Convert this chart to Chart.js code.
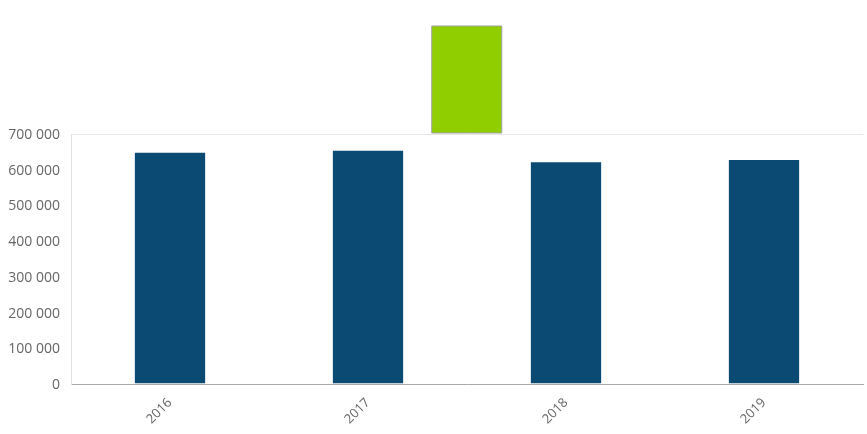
<!DOCTYPE html>
<html>
<head>
<meta charset="utf-8">
<script src="https://cdn.jsdelivr.net/npm/chart.js@4/dist/chart.umd.min.js"></script>
<style>
  html, body { margin:0; padding:0; background:#fff; }
  #wrap { width:867px; height:434px; position:relative; }
</style>
</head>
<body>
<div id="wrap"><canvas id="chart"></canvas></div>
<script>
// Données
const years = ["2016", "2017", "2018", "2019"];
const values = [650000, 656000, 624000, 630000];
const yTicks = [0, 100000, 200000, 300000, 400000, 500000, 600000, 700000];

const BLUE = "#0b4a72";
const GREEN = "#90ce00";
const TXT = "#666666";

// 700 000 -> "700 000"
const fmt = v => String(v).replace(/\B(?=(\d{3})+(?!\d))/g, " ");

new Chart(document.getElementById("chart"), {
  type: "bar",
  data: {
    labels: years,
    datasets: [{
      label: "",
      data: values,
      backgroundColor: BLUE,
      borderColor: "rgba(255,255,255,0.55)",
      borderWidth: {top:1, left:1, right:1, bottom:0},
      categoryPercentage: 1,
      barPercentage: 0.365
    }]
  },
  options: {
    responsive: true,
    maintainAspectRatio: false,
    animation: false,
    layout: { padding: { left:0, right:4, top:0, bottom:0 } },
    scales: {
      x: {
        grid: { display:false },
        border: { display:true, color:"#a8a8a8", width:1 },
        ticks: {
          color: TXT,
          font: { family:"'Open Sans'", size:13 },
          minRotation: 45,
          maxRotation: 45,
          padding: 3
        },
        afterFit: s => { s.height = 50; }
      },
      y: {
        min: 0,
        max: 700000,
        afterBuildTicks: s => { s.ticks = yTicks.map(v => ({value:v})); },
        grid: {
          drawTicks: false,
          color: c => (c.tick && c.tick.value === 700000) ? "#e6e6e6" : "rgba(0,0,0,0)"
        },
        border: { display:true, color:"#e0e0e0", width:1 },
        ticks: {
          color: TXT,
          font: { family:"'Open Sans'", size:14 },
          padding: 11,
          labelOffset: 1,
          callback: v => fmt(v)
        },
        afterFit: s => { s.width = 71; }
      }
    },
    plugins: {
      legend: {
        position: "top",
        fullSize: false,
        maxHeight: 134,
        labels: {
          boxWidth: 70,
          boxHeight: 107,
          padding: 26,
          font: { size:1 },
          generateLabels: () => [{
            text: "",
            fillStyle: GREEN,
            strokeStyle: "#a0a0a0",
            lineWidth: 1,
            hidden: false,
            datasetIndex: 0
          }]
        }
      },
      tooltip: { enabled:false }
    }
  }
});
</script>
</body>
</html>
